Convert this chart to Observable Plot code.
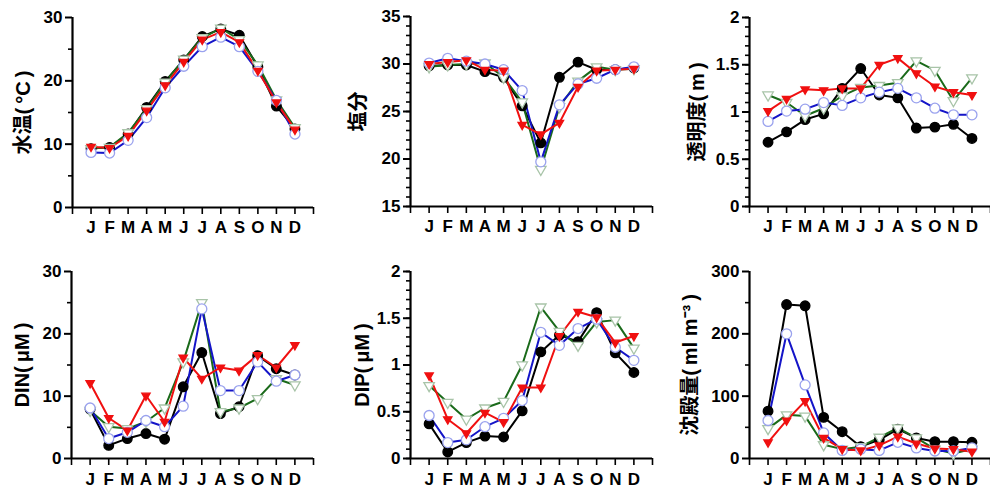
<!DOCTYPE html>
<html>
<head>
<meta charset="utf-8">
<script src="https://cdn.jsdelivr.net/npm/d3@7"></script>
<script src="https://cdn.jsdelivr.net/npm/@observablehq/plot@0.6"></script>
<style>
  html, body { margin: 0; padding: 0; background: #fff; }
  #wrap { position: relative; width: 990px; height: 489px; overflow: hidden; }
  #wrap > div { position: absolute; }
</style>
</head>
<body>
<div id="wrap"></div>
<script>
// Month tick labels
const months = ["J","F","M","A","M","J","J","A","S","O","N","D"];

// 水温 (°C)
const tempBlack = [9.3, 9.5, 11.6, 15.8, 19.9, 23.3, 27.0, 28.2, 27.2, 22.2, 16.0, 12.4];
const tempBlue  = [8.7, 8.6, 10.6, 14.2, 18.9, 22.3, 25.4, 26.9, 25.4, 21.5, 16.9, 11.6];
const tempRed   = [9.6, 9.4, 11.3, 15.3, 19.3, 23.0, 26.5, 27.7, 26.1, 21.6, 16.6, 12.3];
const tempGreen = [9.3, 9.5, 11.8, 15.6, 19.8, 23.4, 26.8, 28.3, 26.5, 22.5, 17.0, 12.6];

// 塩分
const salBlack = [29.8, 29.9, 29.9, 29.2, 28.6, 25.6, 21.7, 28.6, 30.2, 29.4, 29.4, 29.6];
const salBlue  = [30.1, 30.6, 30.3, 30.0, 29.4, 27.2, 19.7, 25.7, 27.9, 28.5, 29.4, 29.7];
const salRed   = [30.0, 30.2, 30.4, 29.4, 29.3, 23.6, 22.6, 23.8, 27.6, 29.3, 29.4, 29.5];
const salGreen = [29.7, 29.9, 30.0, 30.1, 28.6, 26.0, 18.9, 25.5, 28.2, 29.7, 29.4, 29.5];

// 透明度 (m)
const sdBlack = [0.68, 0.79, 0.92, 0.98, 1.25, 1.46, 1.18, 1.15, 0.83, 0.84, 0.87, 0.72];
const sdBlue  = [0.90, 1.01, 1.03, 1.10, 1.07, 1.15, 1.21, 1.25, 1.15, 1.04, 0.97, 0.97];
const sdRed   = [1.01, 1.14, 1.24, 1.23, 1.25, 1.25, 1.50, 1.57, 1.41, 1.27, 1.21, 1.18];
const sdGreen = [1.18, 1.10, 0.96, 1.04, 1.17, 1.26, 1.28, 1.31, 1.54, 1.44, 1.12, 1.36];

// DIN (μM)
const dinBlack = [7.9, 2.1, 3.2, 4.0, 3.1, 11.5, 17.0, 7.2, 8.3, 16.5, 14.4, 13.4];
const dinBlue  = [8.1, 3.2, 4.2, 6.1, 5.1, 8.4, 24.0, 10.9, 10.9, 15.5, 12.4, 13.4];
const dinRed   = [12.1, 6.5, 4.5, 10.1, 5.9, 16.2, 12.8, 14.6, 14.1, 16.6, 14.6, 18.2];
const dinGreen = [7.7, 5.1, 4.8, 5.9, 8.1, 15.5, 25.0, 7.5, 8.1, 9.6, 12.8, 11.8];

// DIP (μM)
const dipBlack = [0.37, 0.07, 0.17, 0.24, 0.23, 0.51, 1.14, 1.32, 1.25, 1.56, 1.13, 0.92];
const dipBlue  = [0.46, 0.17, 0.20, 0.34, 0.43, 0.62, 1.35, 1.21, 1.39, 1.49, 1.19, 1.05];
const dipRed   = [0.89, 0.42, 0.27, 0.49, 0.39, 0.76, 0.76, 1.31, 1.57, 1.51, 1.24, 1.31];
const dipGreen = [0.78, 0.60, 0.42, 0.54, 0.61, 1.00, 1.62, 1.36, 1.21, 1.46, 1.48, 1.18];

// 沈殿量 (ml m-3)
const setBlack = [76, 247, 245, 66, 43, 19, 30, 47, 33, 27, 27, 26];
const setBlue  = [61, 200, 118, 41, 13, 15, 13, 26, 17, 12, 12, 17];
const setRed   = [26, 61, 92, 33, 15, 13, 21, 35, 24, 16, 15, 11];
const setGreen = [48, 70, 68, 22, 15, 19, 34, 49, 33, 15, 8, 15];

const ts = "\u2009";
const panels = [
  {label: "水温(" + ts + "°C" + ts + ")", domain: [0, 30], major: [0, 10, 20, 30], minor: [5, 15, 25],
   data: [tempBlack, tempBlue, tempRed, tempGreen],
   left: 0, top: 0, height: 245, mL: 72, mR: 17, mT: 17, mB: 38, ldx: -49},
  {label: "塩分", domain: [15, 35], major: [15, 20, 25, 30, 35], minor: d3.range(15, 36, 1),
   data: [salBlack, salBlue, salRed, salGreen],
   left: 330, top: 0, height: 245, mL: 80, mR: 8, mT: 16, mB: 39, ldx: -52},
  {label: "透明度(" + ts + "m" + ts + ")", domain: [0, 2], major: [0, 0.5, 1, 1.5, 2], minor: d3.range(0, 21).map(d => d / 10),
   data: [sdBlack, sdBlue, sdRed, sdGreen],
   left: 660, top: 0, height: 245, mL: 89, mR: 0, mT: 17, mB: 39, ldx: -52},
  {label: "DIN(" + ts + "μM" + ts + ")", domain: [0, 30], major: [0, 10, 20, 30], minor: [5, 15, 25],
   data: [dinBlack, dinBlue, dinRed, dinGreen],
   left: 0, top: 245, height: 244, mL: 71, mR: 17, mT: 26, mB: 31, ldx: -49},
  {label: "DIP(" + ts + "μM" + ts + ")", domain: [0, 2], major: [0, 0.5, 1, 1.5, 2], minor: d3.range(0, 21).map(d => d / 10),
   data: [dipBlack, dipBlue, dipRed, dipGreen],
   left: 330, top: 245, height: 244, mL: 80, mR: 8, mT: 26, mB: 31, ldx: -48},
  {label: "沈殿量(" + ts + "ml m⁻³" + ts + ")", domain: [0, 300], major: [0, 100, 200, 300], minor: [50, 150, 250],
   data: [setBlack, setBlue, setRed, setGreen],
   left: 660, top: 245, height: 244, mL: 89, mR: 0, mT: 26, mB: 31, ldx: -59}
];

// downward-pointing triangle symbol
const triDown = {
  draw(context, size) {
    const y = -Math.sqrt(size / (Math.sqrt(3) * 3));
    context.moveTo(0, -y * 2);
    context.lineTo(-Math.sqrt(3) * y, y);
    context.lineTo(Math.sqrt(3) * y, y);
    context.closePath();
  }
};

// series styles: black filled circle, blue open circle, red filled down-triangle, green open down-triangle
const styles = [
  {line: "#000000", symbol: "circle", fill: "#000000", stroke: "#000000", r: 4.8},
  {line: "#1414c8", symbol: "circle", fill: "#ffffff", stroke: "#9aa2ee", r: 5},
  {line: "#f01010", symbol: triDown, fill: "#f01010", stroke: "#f01010", r: 3.1},
  {line: "#1a6a1a", symbol: triDown, fill: "#ffffff", stroke: "#a8c4a8", r: 3.9}
];
const drawOrder = [0, 3, 1, 2];

const font = "'Liberation Sans', Arial, 'Noto Sans CJK JP', sans-serif";
const wrap = document.getElementById("wrap");

for (const p of panels) {
  const marks = [];
  const xPad = p.top === 0 ? 6 : 7;
  marks.push(Plot.axisY({ticks: p.minor, tickSize: 4, tickFormat: () => "", strokeWidth: 1.6, label: null}));
  marks.push(Plot.axisY({ticks: p.major, tickSize: 7, tickPadding: 3, strokeWidth: 2, label: null,
    tickFormat: d => String(d), fontSize: 17, fontWeight: "bold"}));
  marks.push(Plot.axisX({ticks: d3.range(0, 14), tickSize: 7, tickPadding: xPad, strokeWidth: 1.6, label: null,
    tickFormat: d => (d >= 1 && d <= 12 ? months[d - 1] : ""), fontSize: 17, fontWeight: "bold"}));
  marks.push(Plot.ruleX([0], {y1: p.domain[0], y2: p.domain[1], stroke: "#000", strokeWidth: 2.2}));
  marks.push(Plot.ruleY([p.domain[0]], {x1: 0, x2: 13, stroke: "#000", strokeWidth: 2.2}));
  for (const si of drawOrder) {
    const s = styles[si];
    const rows = p.data[si].map((v, i) => ({m: i + 1, v}));
    marks.push(Plot.line(rows, {x: "m", y: "v", stroke: s.line, strokeWidth: 2}));
  }
  for (const si of drawOrder) {
    const s = styles[si];
    const rows = p.data[si].map((v, i) => ({m: i + 1, v}));
    marks.push(Plot.dot(rows, {x: "m", y: "v", symbol: s.symbol, r: s.r, fill: s.fill, stroke: s.stroke, strokeWidth: 1.3}));
  }
  marks.push(Plot.text([p.label], {frameAnchor: "left", dx: p.ldx, rotate: -90, text: d => d,
    fontSize: 20, fontWeight: "bold", fill: "#000", textAnchor: "middle"}));

  const chart = Plot.plot({
    width: 330,
    height: p.height,
    marginLeft: p.mL, marginRight: p.mR, marginTop: p.mT, marginBottom: p.mB,
    x: {domain: [0, 13], axis: null},
    y: {domain: p.domain, axis: null},
    style: {fontFamily: font, background: "transparent", color: "#000", overflow: "visible"},
    marks
  });
  const holder = document.createElement("div");
  holder.style.left = p.left + "px";
  holder.style.top = p.top + "px";
  holder.appendChild(chart);
  wrap.appendChild(holder);
}
</script>
</body>
</html>
